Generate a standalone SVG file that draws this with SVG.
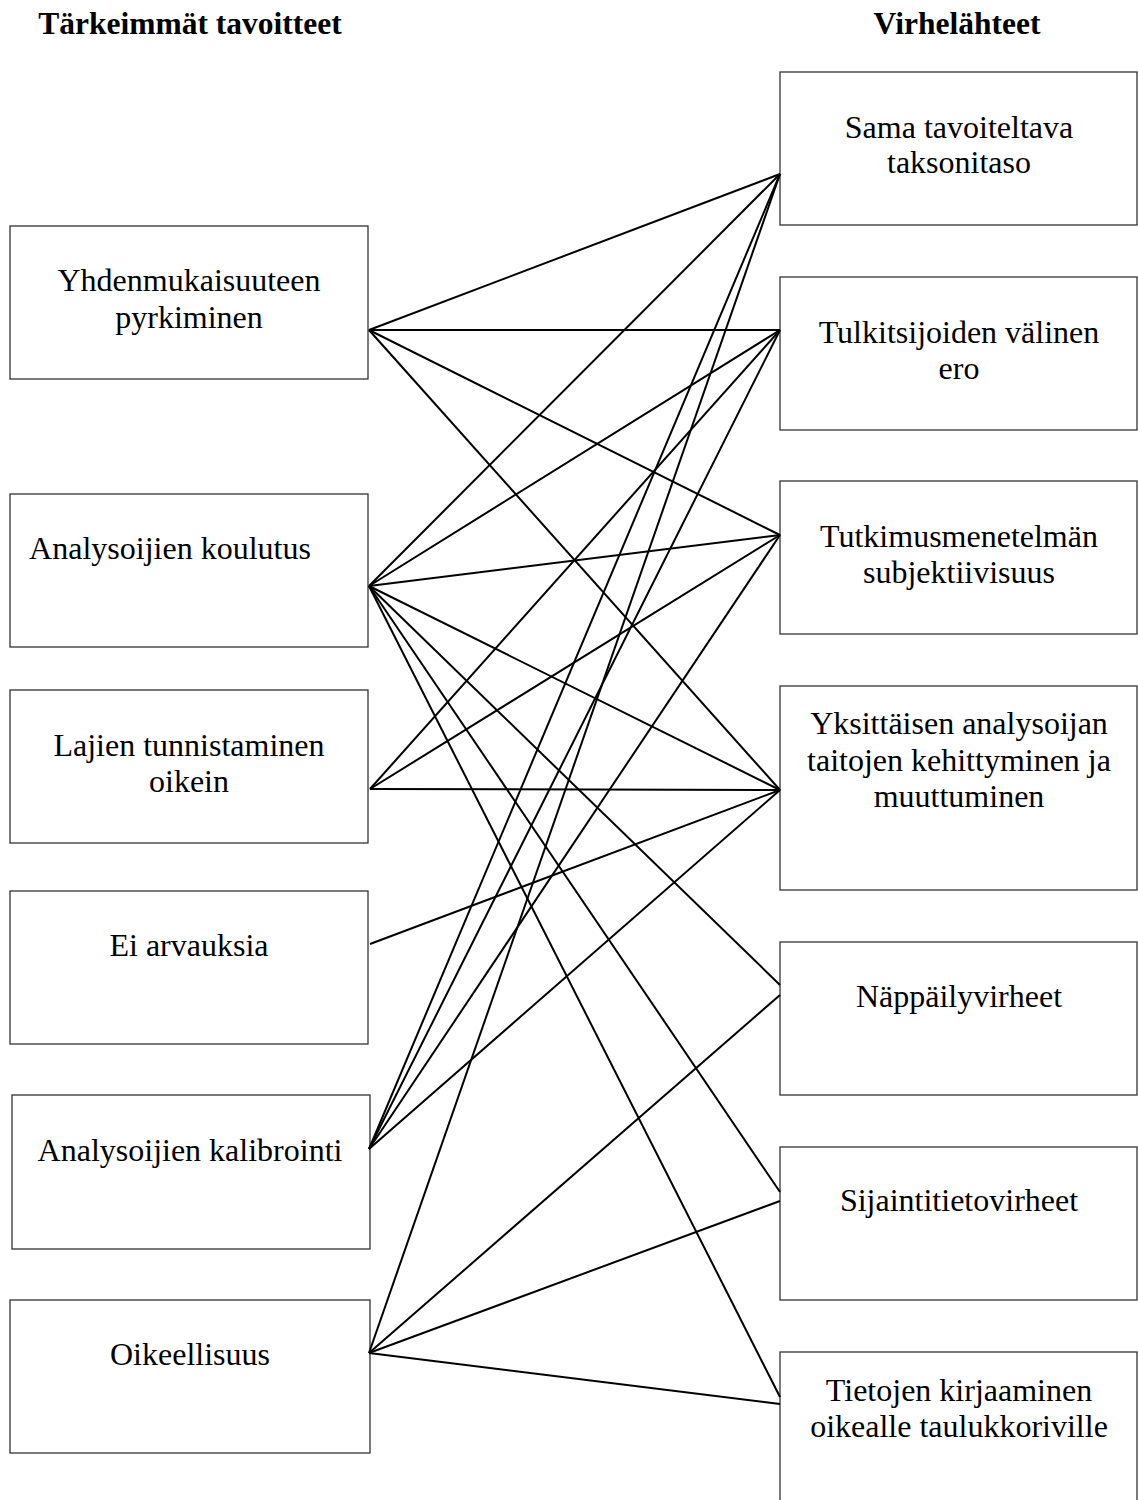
<svg xmlns="http://www.w3.org/2000/svg" width="1138" height="1500" viewBox="0 0 1138 1500">
<style>
.box{fill:#fff;stroke:#333;stroke-width:1.3}
.t{font-family:"Liberation Serif","DejaVu Serif",serif;font-size:32px;fill:#000;text-anchor:middle}
.h{font-family:"Liberation Serif","DejaVu Serif",serif;font-size:31.5px;font-weight:bold;fill:#000;text-anchor:middle}
.c line{stroke:#000;stroke-width:2}
</style>
<rect width="1138" height="1500" fill="#fff"/>
<text class="h" x="190" y="34">Tärkeimmät tavoitteet</text>
<text class="h" x="957" y="34">Virhelähteet</text>

<g id="L1"><rect class="box" x="10" y="226" width="358" height="153"/><text class="t" x="189" y="291">Yhdenmukaisuuteen</text><text class="t" x="189" y="328">pyrkiminen</text></g>
<g id="L2"><rect class="box" x="10" y="494" width="358" height="153"/><text class="t" x="170" y="559">Analysoijien koulutus</text></g>
<g id="L3"><rect class="box" x="10" y="690" width="358" height="153"/><text class="t" x="189" y="756">Lajien tunnistaminen</text><text class="t" x="189" y="792">oikein</text></g>
<g id="L4"><rect class="box" x="10" y="891" width="358" height="153"/><text class="t" x="189" y="956">Ei arvauksia</text></g>
<g id="L5"><rect class="box" x="12" y="1095" width="358" height="154"/><text class="t" x="190" y="1161">Analysoijien kalibrointi</text></g>
<g id="L6"><rect class="box" x="10" y="1300" width="360" height="153"/><text class="t" x="190" y="1365">Oikeellisuus</text></g>

<g id="R1"><rect class="box" x="780" y="72" width="357" height="153"/><text class="t" x="959" y="138">Sama tavoiteltava</text><text class="t" x="959" y="173">taksonitaso</text></g>
<g id="R2"><rect class="box" x="780" y="277" width="357" height="153"/><text class="t" x="959" y="343">Tulkitsijoiden välinen</text><text class="t" x="959" y="379">ero</text></g>
<g id="R3"><rect class="box" x="780" y="481" width="357" height="153"/><text class="t" x="959" y="547">Tutkimusmenetelmän</text><text class="t" x="959" y="583">subjektiivisuus</text></g>
<g id="R4"><rect class="box" x="780" y="686" width="357" height="204"/><text class="t" x="959" y="734">Yksittäisen analysoijan</text><text class="t" x="959" y="771">taitojen kehittyminen ja</text><text class="t" x="959" y="807">muuttuminen</text></g>
<g id="R5"><rect class="box" x="780" y="942" width="357" height="153"/><text class="t" x="959" y="1007">Näppäilyvirheet</text></g>
<g id="R6"><rect class="box" x="780" y="1147" width="357" height="153"/><text class="t" x="959" y="1211">Sijaintitietovirheet</text></g>
<g id="R7"><rect class="box" x="780" y="1352" width="357" height="160"/><text class="t" x="959" y="1401">Tietojen kirjaaminen</text><text class="t" x="959" y="1437">oikealle taulukkoriville</text></g>

<g class="c" id="connectors">
<line x1="369" y1="330" x2="780" y2="174"/>
<line x1="369" y1="330" x2="780" y2="330"/>
<line x1="369" y1="330" x2="780" y2="535"/>
<line x1="369" y1="330" x2="780" y2="790"/>
<line x1="369" y1="586" x2="780" y2="174"/>
<line x1="369" y1="586" x2="780" y2="330"/>
<line x1="369" y1="586" x2="780" y2="535"/>
<line x1="369" y1="586" x2="780" y2="790"/>
<line x1="369" y1="586" x2="780" y2="985"/>
<line x1="369" y1="586" x2="780" y2="1192"/>
<line x1="369" y1="586" x2="780" y2="1397"/>
<line x1="370" y1="789" x2="780" y2="330"/>
<line x1="370" y1="789" x2="780" y2="535"/>
<line x1="370" y1="789" x2="780" y2="790"/>
<line x1="370" y1="944" x2="780" y2="790"/>
<line x1="369" y1="1149" x2="780" y2="174"/>
<line x1="369" y1="1149" x2="780" y2="330"/>
<line x1="369" y1="1149" x2="780" y2="535"/>
<line x1="369" y1="1149" x2="780" y2="790"/>
<line x1="369" y1="1353" x2="780" y2="174"/>
<line x1="369" y1="1353" x2="780" y2="995"/>
<line x1="369" y1="1353" x2="780" y2="1201"/>
<line x1="369" y1="1353" x2="780" y2="1404"/>
</g>
</svg>
